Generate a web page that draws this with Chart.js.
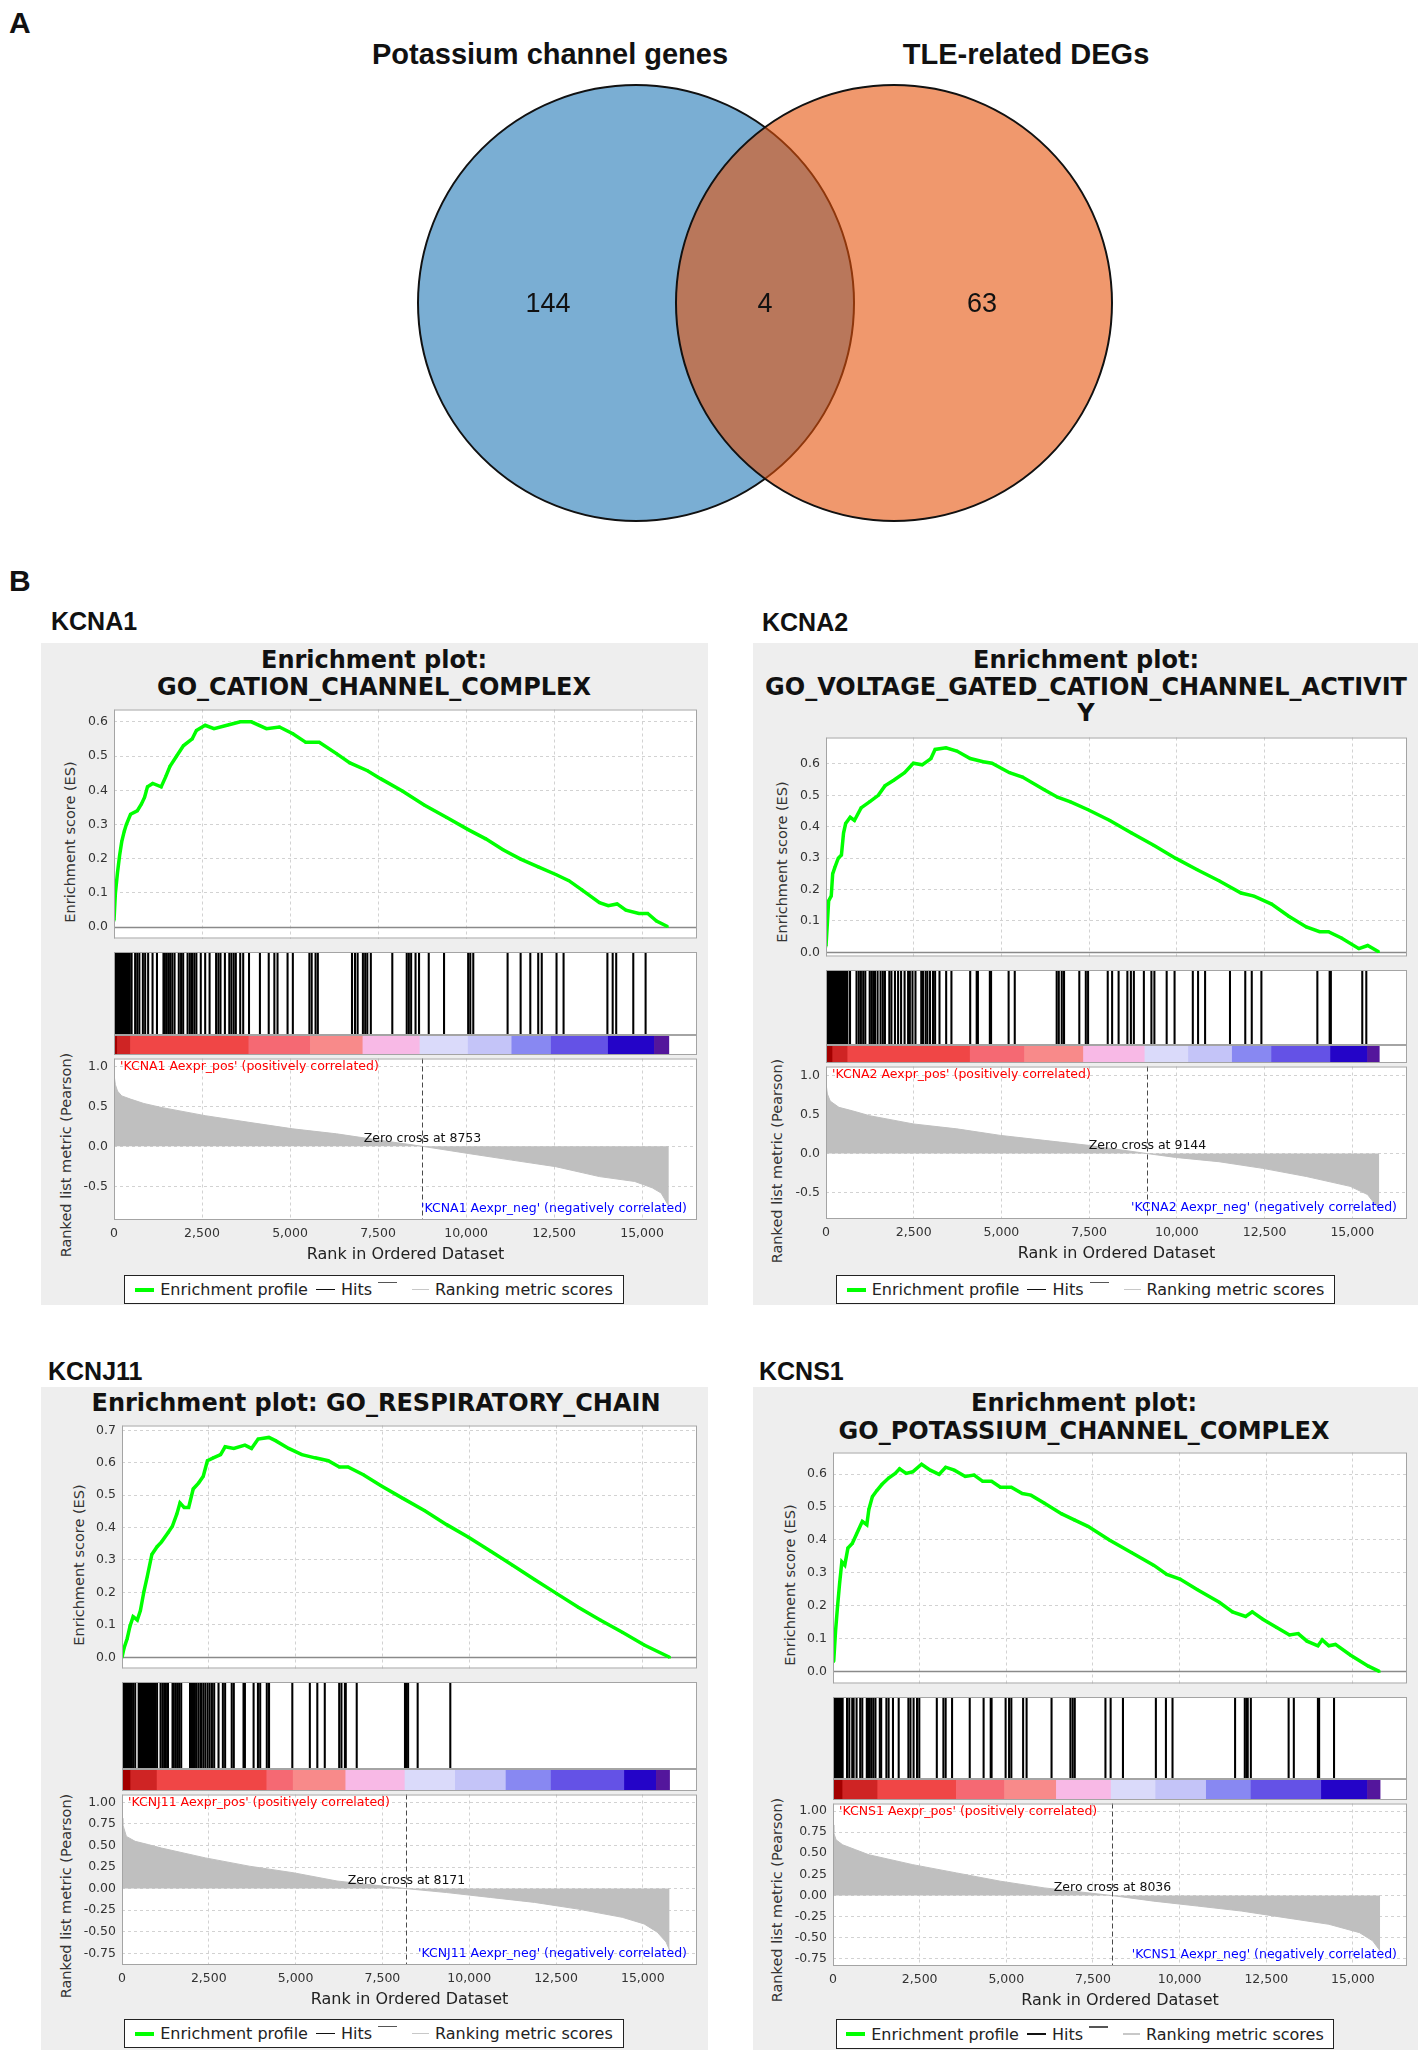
<!DOCTYPE html>
<html>
<head>
<meta charset="utf-8">
<title>Potassium channel genes and GSEA enrichment plots</title>
<script src="https://cdn.jsdelivr.net/npm/chart.js@4.4.1/dist/chart.umd.min.js"></script>
<style>
  html, body { margin: 0; padding: 0; background: #fff; }
  body { position: relative; width: 1418px; height: 2052px; overflow: hidden;
         font-family: "Liberation Sans", Arial, sans-serif; color: #111; }
  canvas { position: absolute; }
  .txt { position: absolute; white-space: nowrap; line-height: 1; }
  .bg { position: absolute; background: #eeeeee; }
  .legend { position: absolute; box-sizing: border-box; border: 1.5px solid #222; background: #fff;
            display: flex; align-items: center; justify-content: center;
            font-family: "DejaVu Sans"; font-size: 16px; color: #222; white-space: nowrap; }
  .sw { display: inline-block; }
</style>
</head>
<body>
<script>
// =========================================================
// Data
// =========================================================

// --- Panel A: Venn counts (left only, shared, right only) ---
const vennSets = ['Potassium channel genes', 'TLE-related DEGs'];
const vennCounts = [144, 4, 63];

// --- shared rank axis ---
const rankTicks = [0, 2500, 5000, 7500, 10000, 12500, 15000];

// --- KCNA1 ---
const kcna1Es = [[0,0.02],[40,0.10],[100,0.16],[160,0.21],[220,0.25],[290,0.28],[350,0.30],[470,0.33],[660,0.34],
  [780,0.36],[870,0.38],[950,0.41],[1100,0.42],[1340,0.41],[1470,0.44],[1590,0.47],[1780,0.50],[1970,0.53],
  [2220,0.55],[2340,0.575],[2590,0.59],[2840,0.58],[3210,0.59],[3590,0.60],[3900,0.60],[4330,0.58],[4700,0.585],
  [5080,0.565],[5450,0.54],[5830,0.54],[6320,0.507],[6700,0.48],[7200,0.457],[7570,0.434],[8190,0.398],
  [8810,0.357],[9440,0.321],[10060,0.285],[10560,0.258],[11050,0.226],[11550,0.199],[12050,0.176],
  [12550,0.154],[12920,0.136],[13290,0.109],[13790,0.072],[14040,0.063],[14290,0.068],[14540,0.05],
  [14910,0.04],[15160,0.04],[15410,0.018],[15720,0.002]];
const kcna1Hits = [0,15,35,55,80,100,120,140,165,185,210,230,250,275,300,320,345,365,385,410,430,448,
  500,600,660,720,820,885,970,1095,1220,1405,1445,1495,1545,1595,1655,1720,1840,1905,1965,2090,2155,2215,
  2280,2340,2465,2590,2715,2900,2965,3025,3150,3275,3335,3400,3460,3585,3670,3835,4145,4395,4555,4645,4930,
  5080,5550,5615,5725,5790,6760,6845,6920,7070,7135,7195,7295,7905,8315,8375,8440,8565,8665,8940,9375,
  10060,10120,10205,11180,11550,11825,12050,12150,12570,12770,14015,14165,14265,14750,15100];
const kcna1Metric = [[0,0.9],[40,0.77],[100,0.69],[220,0.63],[470,0.59],[850,0.535],[1340,0.486],[2590,0.383],
  [3830,0.30],[5080,0.218],[6320,0.156],[7570,0.074],[8753,0],[10060,-0.09],[11300,-0.173],[12550,-0.255],
  [13790,-0.379],[14790,-0.44],[15290,-0.52],[15540,-0.584],[15760,-0.75]];
const kcna1BarEdges = [0,100,470,3830,5580,7070,8690,10060,11300,12420,14040,15350,15760];

// --- KCNA2 ---
const kcna2Es = [[0,0.02],[40,0.095],[75,0.164],[150,0.18],[190,0.25],[250,0.27],[350,0.30],[440,0.31],
  [500,0.38],[560,0.41],[690,0.43],[810,0.42],[1000,0.46],[1250,0.48],[1490,0.50],[1680,0.53],[1930,0.548],
  [2240,0.572],[2490,0.602],[2740,0.597],[2990,0.617],[3110,0.646],[3420,0.651],[3730,0.641],[4110,0.617],
  [4480,0.607],[4730,0.602],[5230,0.572],[5600,0.558],[6220,0.518],[6600,0.494],[6970,0.479],[7470,0.454],
  [8090,0.42],[8710,0.38],[9340,0.341],[9960,0.30],[10580,0.263],[11200,0.228],[11830,0.189],[12200,0.179],
  [12700,0.154],[13190,0.115],[13690,0.081],[14070,0.066],[14320,0.066],[14690,0.046],[15190,0.012],
  [15440,0.022],[15750,0.002]];
const kcna2Hits = [0,20,45,65,90,110,135,155,180,200,225,250,270,295,315,340,360,385,410,430,455,475,500,520,
  545,565,590,610,685,870,935,995,1060,1120,1245,1295,1345,1395,1470,1555,1620,1680,1805,1865,1965,2055,2140,
  2240,2340,2390,2465,2550,2715,2765,2840,2890,2965,3050,3110,3235,3425,3575,4110,4295,4330,4670,4705,5205,
  5380,6575,6635,6720,6785,7220,7405,7470,8030,8155,8340,8590,8690,8775,9060,9275,9360,9710,9935,10455,
  10605,10805,11515,11950,12135,12410,14005,14355,14390,15285,15400];
const kcna2Metric = [[0,0.9],[40,0.76],[120,0.67],[370,0.59],[750,0.546],[1245,0.483],[2490,0.378],
  [3730,0.315],[4980,0.231],[6220,0.168],[7470,0.105],[9144,0],[9960,-0.05],[11200,-0.105],[12450,-0.19],
  [13690,-0.294],[14940,-0.42],[15435,-0.525],[15685,-0.67],[15770,-0.72]];
const kcna2BarEdges = [0,190,620,4110,5660,7340,9090,10330,11580,12700,14380,15435,15770];

// --- KCNJ11 ---
const kcnj11Es = [[0,0],[60,0.029],[150,0.058],[230,0.096],[320,0.125],[440,0.115],[530,0.144],[630,0.202],
  [730,0.25],[860,0.317],[1010,0.341],[1140,0.356],[1330,0.385],[1450,0.404],[1580,0.442],[1670,0.476],
  [1790,0.462],[1920,0.462],[2050,0.519],[2210,0.538],[2340,0.558],[2460,0.606],[2630,0.615],[2840,0.625],
  [2970,0.649],[3220,0.644],[3540,0.654],[3730,0.644],[3920,0.673],[4230,0.678],[4420,0.668],[4800,0.644],
  [5180,0.625],[5560,0.615],[5940,0.606],[6260,0.587],[6510,0.587],[6950,0.563],[7460,0.529],[8090,0.49],
  [8720,0.452],[9350,0.409],[9980,0.37],[10620,0.327],[11250,0.284],[11880,0.24],[12510,0.197],
  [13140,0.154],[13770,0.115],[14410,0.077],[15040,0.038],[15770,0]];
const kcnj11Hits = [0,20,45,65,90,110,135,160,180,205,230,250,275,320,380,480,500,525,545,570,590,615,640,
  660,685,705,730,750,775,800,820,845,865,890,910,950,1010,1110,1165,1215,1265,1325,1455,1490,1540,1590,
  1645,1705,1960,2000,2045,2100,2150,2210,2275,2340,2400,2465,2525,2590,2655,2780,2905,2970,3160,3220,3500,
  3540,3790,3915,3980,4170,4235,4905,5410,5625,5840,6255,6320,6420,6445,6760,8150,8190,8240,8515,9455];
const kcnj11Metric = [[0,0.816],[25,0.74],[126,0.605],[379,0.548],[758,0.51],[1137,0.47],[2401,0.356],
  [3664,0.26],[4928,0.184],[6192,0.088],[8171,0],[9351,-0.046],[10615,-0.103],[11879,-0.16],[13142,-0.238],
  [14406,-0.333],[15038,-0.41],[15417,-0.506],[15670,-0.62],[15771,-0.716]];
const kcnj11BarEdges = [0,250,1010,4170,4930,6445,8150,9600,11060,12360,14470,15390,15770];

// --- KCNS1 ---
const kcns1Es = [[20,0.03],[75,0.125],[125,0.19],[190,0.267],[255,0.333],[340,0.323],[430,0.375],[555,0.389],
  [680,0.418],[845,0.456],[975,0.446],[1035,0.493],[1135,0.531],[1265,0.55],[1415,0.569],[1605,0.588],
  [1795,0.602],[1920,0.616],[2110,0.602],[2300,0.607],[2555,0.63],[2805,0.612],[3060,0.599],[3250,0.621],
  [3500,0.612],[3815,0.593],[4070,0.597],[4320,0.578],[4575,0.578],[4830,0.56],[5145,0.56],[5460,0.541],
  [5710,0.536],[6090,0.512],[6600,0.479],[6975,0.46],[7355,0.441],[7985,0.399],[8620,0.361],[9250,0.323],
  [9630,0.295],[10010,0.281],[10515,0.248],[11145,0.21],[11525,0.181],[11905,0.167],[12095,0.181],
  [12410,0.158],[12790,0.134],[13170,0.111],[13420,0.115],[13675,0.092],[13990,0.078],[14115,0.096],
  [14305,0.078],[14495,0.082],[14935,0.049],[15445,0.016],[15760,0]];
const kcns1Hits = [0,20,45,65,90,110,135,160,180,205,230,250,278,405,470,555,595,680,785,845,975,1010,1060,
  1110,1165,1225,1350,1390,1540,1605,1730,1895,2175,2235,2325,2425,2490,2995,3185,3250,3435,3945,4345,4550,
  4575,4980,5080,5145,5485,5585,6305,6850,6915,6975,7860,8010,8365,9315,9605,9795,11600,11880,11930,11965,
  12055,13145,13295,13990,14025,14455];
const kcns1Metric = [[0,0.835],[25,0.737],[88,0.659],[278,0.6],[657,0.541],[1036,0.482],[2300,0.365],
  [3564,0.267],[4828,0.169],[6091,0.09],[8036,0],[9250,-0.067],[10514,-0.125],[11778,-0.184],[13042,-0.263],
  [14305,-0.341],[15190,-0.44],[15569,-0.537],[15784,-0.655]];
const kcns1BarEdges = [0,280,1290,3560,4950,6445,8024,9310,10770,12060,14090,15420,15784];

// =========================================================
// Styles and layout (page pixels)
// =========================================================
const X_MAX = 16560;
const GREEN = '#00ff00';
const GRID = '#d2d2d2';
const METRIC_GRAY = '#bfbfbf';
const barColors = ['#a30000', '#cf2424', '#f04646', '#f56973', '#f88a8a', '#f8b9e6',
                   '#dadafa', '#c4c4f8', '#8888f2', '#6452e6', '#2404c8', '#54169c'];

const boxKCNA1 = { bg: [41, 643, 708, 1305], plotL: 114, plotR: 697, titleX: 374, titleY: [660, 687],
  esTop: 706, esBottom: 952, esMin: -0.033, esMax: 0.636, hitsBottom: 1035, barBottom: 1055,
  rankBottom: 1220, rankMin: -0.922, rankMax: 1.098, rankStep: 0.5, rankDec: 1,
  esLabel: [69.5, 842], rankLabel: [66, 1155], legend: [124, 1275, 624, 1304], gene: [51, 621] };
const boxKCNA2 = { bg: [753, 643, 1418, 1305], plotL: 826, plotR: 1407, titleX: 1086, titleY: [660, 687, 713],
  esTop: 734, esBottom: 970, esMin: -0.013, esMax: 0.684, hitsBottom: 1045, barBottom: 1063,
  rankBottom: 1219, rankMin: -0.8375, rankMax: 1.1125, rankStep: 0.5, rankDec: 1,
  esLabel: [782, 862], rankLabel: [777, 1161], legend: [836, 1275, 1335, 1304], gene: [762, 622] };
const boxKCNJ11 = { bg: [41, 1387, 708, 2050], plotL: 122, plotR: 697, titleX: 376, titleY: [1403],
  esTop: 1422, esBottom: 1682, esMin: -0.0346, esMax: 0.7147, hitsBottom: 1769, barBottom: 1791,
  rankBottom: 1965, rankMin: -0.886, rankMax: 1.091, rankStep: 0.25, rankDec: 2,
  esLabel: [79, 1565], rankLabel: [66, 1896], legend: [124, 2019, 624, 2048], gene: [48, 1371] };
const boxKCNS1 = { bg: [753, 1387, 1418, 2050], plotL: 833, plotR: 1407, titleX: 1084, titleY: [1403, 1431],
  esTop: 1449, esBottom: 1697, esMin: -0.0368, esMax: 0.6657, hitsBottom: 1779, barBottom: 1800,
  rankBottom: 1966, rankMin: -0.835, rankMax: 1.089, rankStep: 0.25, rankDec: 2,
  esLabel: [790, 1585], rankLabel: [777, 1900], legend: [836, 2019, 1334, 2049], gene: [759, 1371] };

const panels = [
  { gene: 'KCNA1', title: ['Enrichment plot:', 'GO_CATION_CHANNEL_COMPLEX'], es: kcna1Es, hits: kcna1Hits,
    metric: kcna1Metric, edges: kcna1BarEdges, zero: 8753, box: boxKCNA1 },
  { gene: 'KCNA2', title: ['Enrichment plot:', 'GO_VOLTAGE_GATED_CATION_CHANNEL_ACTIVIT', 'Y'], es: kcna2Es,
    hits: kcna2Hits, metric: kcna2Metric, edges: kcna2BarEdges, zero: 9144, box: boxKCNA2 },
  { gene: 'KCNJ11', title: ['Enrichment plot: GO_RESPIRATORY_CHAIN'], es: kcnj11Es, hits: kcnj11Hits,
    metric: kcnj11Metric, edges: kcnj11BarEdges, zero: 8171, box: boxKCNJ11 },
  { gene: 'KCNS1', title: ['Enrichment plot:', 'GO_POTASSIUM_CHANNEL_COMPLEX'], es: kcns1Es, hits: kcns1Hits,
    metric: kcns1Metric, edges: kcns1BarEdges, zero: 8036, box: boxKCNS1 }
];

Chart.defaults.font.family = '"DejaVu Sans"';
Chart.defaults.color = '#333';

// =========================================================
// Helpers
// =========================================================
function addCanvas(x, y, w, h) {
  const c = document.createElement('canvas');
  c.width = w; c.height = h;
  c.style.left = x + 'px'; c.style.top = y + 'px';
  c.style.width = w + 'px'; c.style.height = h + 'px';
  document.body.appendChild(c);
  return c;
}

function addText(str, x, y, css, anchor) {
  const d = document.createElement('div');
  d.className = 'txt';
  d.textContent = str;
  d.style.cssText += css;
  d.style.left = x + 'px';
  d.style.top = y + 'px';
  if (anchor === 'left') d.style.transform = 'translateY(-50%)';
  else if (anchor === 'vert') d.style.transform = 'translate(-50%,-50%) rotate(-90deg)';
  else d.style.transform = 'translate(-50%,-50%)';
  document.body.appendChild(d);
}

function addLegend(b) {
  const d = document.createElement('div');
  d.className = 'legend';
  d.style.left = b[0] + 'px'; d.style.top = b[1] + 'px';
  d.style.width = (b[2] - b[0]) + 'px'; d.style.height = (b[3] - b[1]) + 'px';
  d.innerHTML =
    '<span class="sw" style="width:19px;height:4px;background:' + GREEN + ';margin-right:6px"></span>Enrichment profile' +
    '<span class="sw" style="width:19px;height:1.5px;background:#111;margin:0 6px 0 8px"></span>Hits' +
    '<span class="sw" style="width:19px;height:1.5px;background:#555;margin-left:6px;position:relative;top:-7px"></span>' +
    '<span class="sw" style="width:17px;height:1.5px;background:#c8c8c8;margin:0 6px 0 15px"></span>Ranking metric scores';
  document.body.appendChild(d);
}

// white plot background, optional solid zero line, grey frame
const framePlugin = {
  id: 'frame',
  beforeDraw(chart) {
    const a = chart.chartArea, c = chart.ctx;
    c.save(); c.fillStyle = '#fff'; c.fillRect(a.left, a.top, a.width, a.height); c.restore();
  },
  beforeDatasetsDraw(chart, args, opts) {
    if (!opts || !opts.zeroLine) return;
    const a = chart.chartArea, c = chart.ctx, y = Math.round(chart.scales.y.getPixelForValue(0)) + 0.5;
    c.save(); c.strokeStyle = '#8a8a8a'; c.lineWidth = 1.5;
    c.beginPath(); c.moveTo(a.left, y); c.lineTo(a.right, y); c.stroke(); c.restore();
  },
  afterDraw(chart) {
    const a = chart.chartArea, c = chart.ctx;
    c.save(); c.strokeStyle = '#a4a4a4'; c.lineWidth = 1;
    c.strokeRect(a.left + 0.5, a.top + 0.5, a.width - 1, a.height - 1); c.restore();
  }
};

// zero-cross marker and the pos/neg captions of the ranked list plot
const rankNotes = {
  id: 'rankNotes',
  afterDatasetsDraw(chart, args, o) {
    const a = chart.chartArea, c = chart.ctx;
    const x = Math.round(chart.scales.x.getPixelForValue(o.zero)) + 0.5;
    const y0 = chart.scales.y.getPixelForValue(0);
    c.save();
    c.strokeStyle = '#4a4a4a'; c.lineWidth = 1; c.setLineDash([5, 3]);
    c.beginPath(); c.moveTo(x, a.top); c.lineTo(x, a.bottom); c.stroke();
    c.setLineDash([]);
    c.font = '12.5px "DejaVu Sans"'; c.textBaseline = 'middle';
    c.fillStyle = '#111'; c.textAlign = 'center';
    c.fillText('Zero cross at ' + o.zero, x, y0 - 8);
    c.fillStyle = '#ff0000'; c.textAlign = 'left';
    c.fillText("'" + o.gene + " Aexpr_pos' (positively correlated)", a.left + 6, a.top + 8);
    c.fillStyle = '#0000ff'; c.textAlign = 'right';
    c.fillText("'" + o.gene + " Aexpr_neg' (negatively correlated)", a.right - 10, a.bottom - 11);
    c.restore();
  }
};

const vennLabels = {
  id: 'vennLabels',
  afterDatasetsDraw(chart, args, o) {
    const c = chart.ctx, sx = chart.scales.x, sy = chart.scales.y;
    c.save();
    c.font = '27px "Liberation Sans"'; c.fillStyle = '#111';
    c.textAlign = 'center'; c.textBaseline = 'middle';
    vennCounts.forEach((n, i) => c.fillText(String(n), sx.getPixelForValue(o.labelX[i]), sy.getPixelForValue(0) + 2));
    c.restore();
  }
};

function baseOptions(padding, scales, pluginOpts) {
  return {
    responsive: false, animation: false, events: [],
    layout: { autoPadding: false, padding },
    plugins: Object.assign({ legend: { display: false }, tooltip: { enabled: false } }, pluginOpts || {}),
    scales
  };
}

function rankAxis(withLabels) {
  return {
    type: 'linear', min: 0, max: X_MAX, offset: false,
    afterBuildTicks: s => { s.ticks = rankTicks.map(v => ({ value: v })); },
    grid: { color: GRID, drawTicks: false, offset: false },
    border: { display: false, dash: [3, 3] },
    ticks: { display: withLabels, padding: 6.5, color: '#333', font: { size: 12.5 },
             callback: v => Number(v).toLocaleString('en-US') },
    title: { display: withLabels, text: 'Rank in Ordered Dataset', color: '#222', font: { size: 16 },
             padding: { top: 0, bottom: 6 } },
    afterFit: s => { s.height = withLabels ? 50 : 0; }
  };
}

function valueAxis(L, min, max, step, dec) {
  return {
    min, max,
    afterBuildTicks: s => { s.ticks = s.ticks.filter(t => t.value >= min - 1e-9 && t.value <= max + 1e-9); },
    ticks: { stepSize: step, includeBounds: false, padding: 6, color: '#333', font: { size: 12.5 },
             callback: v => Math.abs(v) < 1e-9 ? (0).toFixed(dec) : Number(v).toFixed(dec) },
    grid: { color: GRID, drawTicks: false },
    border: { display: false, dash: [3, 3] },
    afterFit: s => { s.width = L.plotL - L.bg[0]; }
  };
}

// plain hidden rank axis for the hits strip and the colour bar
function hiddenRankAxis() {
  return { type: 'linear', min: 0, max: X_MAX, offset: false, display: false, grid: { offset: false } };
}

// =========================================================
// Panel A: Venn diagram
// =========================================================
const vennCircleX = [-0.5917, 0.5917];     // circle centres, in circle radii
const vennLabelX = [-0.995, 0, 0.995];

addText('A', 9, 23, 'font-weight:bold;font-size:30px;', 'left');
addText(vennSets[0], 550, 54, 'font-weight:bold;font-size:29px;');
addText(vennSets[1], 1026, 54, 'font-weight:bold;font-size:29px;');

const venn = new Chart(addCanvas(400, 75, 730, 456), {
  type: 'scatter',
  data: {
    datasets: [{
      data: vennCircleX.map(x => ({ x, y: 0 })),
      pointStyle: 'circle',
      pointBackgroundColor: ['#7aaed3', 'rgba(230,80,6,0.59)'],
      pointBorderColor: '#111', pointBorderWidth: 2,
      pointRadius: 10, clip: false
    }]
  },
  options: baseOptions(0, {
    x: { type: 'linear', min: -365 / 218, max: 365 / 218, display: false },
    y: { type: 'linear', min: -228 / 218, max: 228 / 218, display: false }
  }, { vennLabels: { labelX: vennLabelX } }),
  plugins: [vennLabels]
});
// circle radius = one unit of the x scale, in pixels
venn.data.datasets[0].pointRadius = venn.scales.x.getPixelForValue(1) - venn.scales.x.getPixelForValue(0);
venn.update('none');

// =========================================================
// Panel B: four GSEA enrichment plots
// =========================================================
addText('B', 9, 581, 'font-weight:bold;font-size:30px;', 'left');

panels.forEach(p => {
  const L = p.box;
  const W = L.bg[2] - L.bg[0];
  const padR = L.bg[2] - L.plotR;
  const padL = L.plotL - L.bg[0];

  // grey background + texts
  const bg = document.createElement('div');
  bg.className = 'bg';
  bg.style.left = L.bg[0] + 'px'; bg.style.top = L.bg[1] + 'px';
  bg.style.width = W + 'px'; bg.style.height = (L.bg[3] - L.bg[1]) + 'px';
  document.body.appendChild(bg);

  addText(p.gene, L.gene[0], L.gene[1], 'font-weight:bold;font-size:25px;', 'left');
  p.title.forEach((t, i) => addText(t, L.titleX, L.titleY[i],
    'font-family:"DejaVu Sans";font-weight:bold;font-size:24px;color:#111;'));
  addText('Enrichment score (ES)', L.esLabel[0], L.esLabel[1],
    'font-family:"DejaVu Sans";font-size:14.5px;color:#333;', 'vert');
  addText('Ranked list metric (Pearson)', L.rankLabel[0], L.rankLabel[1],
    'font-family:"DejaVu Sans";font-size:14.5px;color:#333;', 'vert');

  // --- Enrichment score curve ---
  new Chart(addCanvas(L.bg[0], L.esTop - 10, W, L.esBottom - L.esTop + 10), {
    type: 'line',
    data: {
      datasets: [{
        data: p.es.map(d => ({ x: d[0], y: d[1] })),
        borderColor: GREEN, borderWidth: 3.5, tension: 0,
        pointRadius: 1.8, pointStyle: 'rect', pointBackgroundColor: GREEN, pointBorderWidth: 0
      }]
    },
    options: baseOptions({ left: 0, right: padR, top: 10, bottom: 0 }, {
      x: rankAxis(false),
      y: valueAxis(L, L.esMin, L.esMax, 0.1, 1)
    }, { frame: { zeroLine: true } }),
    plugins: [framePlugin]
  });

  // --- Hits ---
  new Chart(addCanvas(L.bg[0], L.esBottom, W, L.hitsBottom - L.esBottom), {
    type: 'bar',
    data: {
      datasets: [{ data: p.hits.map(h => ({ x: h, y: 1 })), backgroundColor: '#000', borderWidth: 0, barThickness: 1.4 }]
    },
    options: baseOptions({ left: padL, right: padR, top: 0, bottom: 0 }, {
      x: hiddenRankAxis(),
      y: { min: 0, max: 1, display: false }
    }),
    plugins: [framePlugin]
  });

  // --- colour bar of the ranked list ---
  new Chart(addCanvas(L.bg[0], L.hitsBottom, W, L.barBottom - L.hitsBottom), {
    type: 'bar',
    data: {
      labels: ['ranks'],
      datasets: [{
        data: p.edges.slice(0, -1).map((e, i) => ({ x: [e, p.edges[i + 1]], y: 'ranks' })),
        backgroundColor: barColors, borderWidth: 0, categoryPercentage: 1, barPercentage: 1
      }]
    },
    options: Object.assign(baseOptions({ left: padL, right: padR, top: 0, bottom: 0 }, {
      x: hiddenRankAxis(),
      y: { type: 'category', display: false }
    }), { indexAxis: 'y' }),
    plugins: [framePlugin]
  });

  // --- ranked list metric ---
  new Chart(addCanvas(L.bg[0], L.barBottom - 10, W, L.rankBottom - L.barBottom + 60), {
    type: 'line',
    data: {
      datasets: [{
        data: p.metric.map(d => ({ x: d[0], y: d[1] })),
        fill: 'origin', backgroundColor: METRIC_GRAY, borderColor: METRIC_GRAY, borderWidth: 1,
        pointRadius: 0, tension: 0
      }]
    },
    options: baseOptions({ left: 0, right: padR, top: 10, bottom: 0 }, {
      x: rankAxis(true),
      y: valueAxis(L, L.rankMin, L.rankMax, L.rankStep, L.rankDec)
    }, { rankNotes: { zero: p.zero, gene: p.gene } }),
    plugins: [framePlugin, rankNotes]
  });

  addLegend(L.legend);
});
</script>
</body>
</html>
